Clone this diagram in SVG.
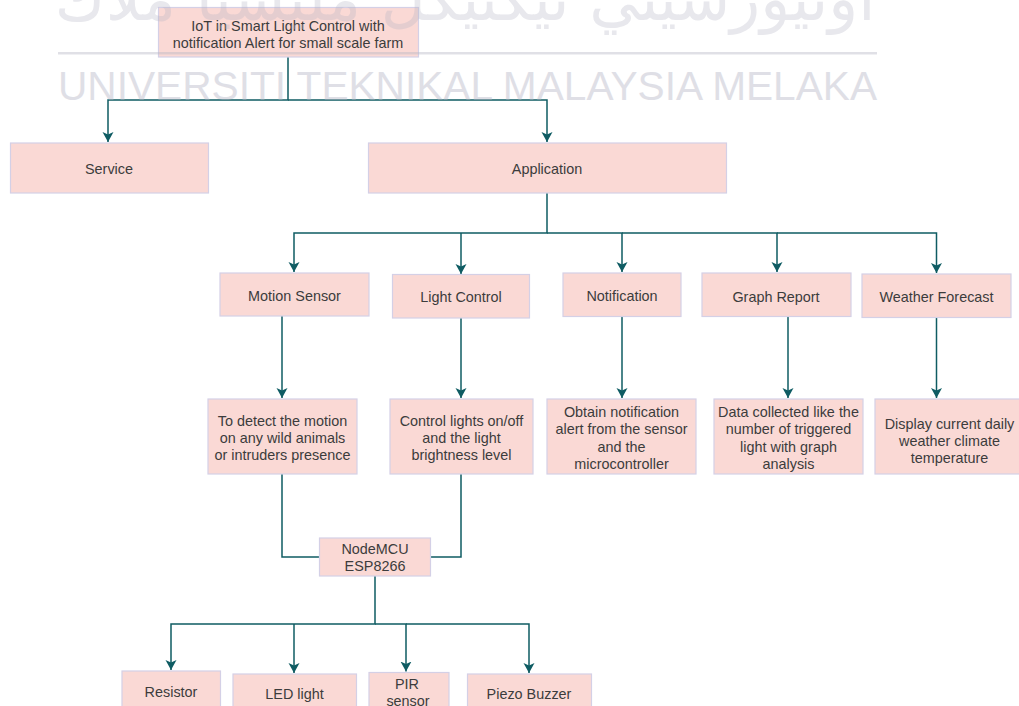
<svg xmlns="http://www.w3.org/2000/svg" width="1019" height="706" viewBox="0 0 1019 706">
  <style>
    .box { fill: #fad9d5; stroke: #d4d0e6; stroke-width: 1.2; }
    .lbl { font-family: "Liberation Sans", Arial, sans-serif; font-size: 14.4px; fill: #3c3c3c; text-anchor: middle; }
    .wire { fill: none; stroke: #0f5c63; stroke-width: 1.5; }
    .wm { font-family: "Liberation Sans", Arial, sans-serif; fill: #b4b4c4; opacity: 0.42; }
    .wmj { font-family: "DejaVu Sans", sans-serif; fill: #b4b4c4; opacity: 0.3; }
  </style>
  <defs>
    <marker id="arrow" markerUnits="userSpaceOnUse" markerWidth="12" markerHeight="12" refX="10" refY="5.5" orient="auto">
      <path d="M0,0 L10,5.5 L0,11 L2.5,5.5 z" fill="#0f5c63"/>
    </marker>
  </defs>

  <rect width="1019" height="706" fill="#ffffff"/>

  <!-- connectors -->
  <g id="connectors">
    <path class="wire" d="M288,57 V100 H108 V142" marker-end="url(#arrow)"/>
    <path class="wire" d="M288,100 H547 V142" marker-end="url(#arrow)"/>

    <path class="wire" d="M547,193 V233 H294 V272" marker-end="url(#arrow)"/>
    <path class="wire" d="M461,233 V274" marker-end="url(#arrow)"/>
    <path class="wire" d="M547,233 H622 V272" marker-end="url(#arrow)"/>
    <path class="wire" d="M622,233 H777 V272" marker-end="url(#arrow)"/>
    <path class="wire" d="M777,233 H936.5 V273" marker-end="url(#arrow)"/>

    <path class="wire" d="M282,316 V398" marker-end="url(#arrow)"/>
    <path class="wire" d="M461,318 V398" marker-end="url(#arrow)"/>
    <path class="wire" d="M622,316.5 V398" marker-end="url(#arrow)"/>
    <path class="wire" d="M788,316.5 V398" marker-end="url(#arrow)"/>
    <path class="wire" d="M936.5,317.5 V398" marker-end="url(#arrow)"/>

    <path class="wire" d="M282,474 V557 H319.5"/>
    <path class="wire" d="M461,474 V557 H430.5"/>

    <path class="wire" d="M375,576 V624 H171 V670" marker-end="url(#arrow)"/>
    <path class="wire" d="M294,624 V673" marker-end="url(#arrow)"/>
    <path class="wire" d="M375,624 H406 V671.5" marker-end="url(#arrow)"/>
    <path class="wire" d="M406,624 H529 V673" marker-end="url(#arrow)"/>
  </g>

  <!-- nodes -->
  <g id="root">
    <rect class="box" x="158.5" y="7.5" width="260" height="49.5"/>
    <text class="lbl" x="288" y="30.5">IoT in Smart Light Control with</text>
    <text class="lbl" x="288" y="47.8">notification Alert for small scale farm</text>
  </g>

  <g id="service">
    <rect class="box" x="10.5" y="143" width="198" height="50"/>
    <text class="lbl" x="109" y="173.5">Service</text>
  </g>
  <g id="application">
    <rect class="box" x="368.5" y="143" width="358" height="50"/>
    <text class="lbl" x="547" y="173.5">Application</text>
  </g>

  <g id="motion-sensor">
    <rect class="box" x="220" y="273" width="149" height="43"/>
    <text class="lbl" x="294.5" y="301">Motion Sensor</text>
  </g>
  <g id="light-control">
    <rect class="box" x="392.5" y="274.5" width="137" height="43.5"/>
    <text class="lbl" x="461" y="302">Light Control</text>
  </g>
  <g id="notification">
    <rect class="box" x="563" y="273" width="118" height="43.5"/>
    <text class="lbl" x="622" y="300.5">Notification</text>
  </g>
  <g id="graph-report">
    <rect class="box" x="702" y="273" width="149" height="43.5"/>
    <text class="lbl" x="776" y="301.5">Graph Report</text>
  </g>
  <g id="weather-forecast">
    <rect class="box" x="862" y="274" width="149" height="43.5"/>
    <text class="lbl" x="936.5" y="302">Weather Forecast</text>
  </g>

  <g id="motion-desc">
    <rect class="box" x="208" y="399" width="149" height="75"/>
    <text class="lbl" x="282.5" y="425.5">To detect the motion</text>
    <text class="lbl" x="282.5" y="443">on any wild animals</text>
    <text class="lbl" x="282.5" y="460.3">or intruders presence</text>
  </g>
  <g id="light-desc">
    <rect class="box" x="390" y="399" width="143" height="75"/>
    <text class="lbl" x="461.5" y="425.5">Control lights on/off</text>
    <text class="lbl" x="461.5" y="443">and the light</text>
    <text class="lbl" x="461.5" y="460.3">brightness level</text>
  </g>
  <g id="notification-desc">
    <rect class="box" x="547" y="399" width="149" height="75"/>
    <text class="lbl" x="621.5" y="417">Obtain notification</text>
    <text class="lbl" x="621.5" y="434.3">alert from the sensor</text>
    <text class="lbl" x="621.5" y="451.6">and the</text>
    <text class="lbl" x="621.5" y="468.9">microcontroller</text>
  </g>
  <g id="graph-desc">
    <rect class="box" x="714" y="399" width="149" height="75"/>
    <text class="lbl" x="788.5" y="417">Data collected like the</text>
    <text class="lbl" x="788.5" y="434.3">number of triggered</text>
    <text class="lbl" x="788.5" y="451.6">light with graph</text>
    <text class="lbl" x="788.5" y="468.9">analysis</text>
  </g>
  <g id="weather-desc">
    <rect class="box" x="875" y="399" width="149" height="75"/>
    <text class="lbl" x="949.5" y="428.5">Display current daily</text>
    <text class="lbl" x="949.5" y="445.8">weather climate</text>
    <text class="lbl" x="949.5" y="463.1">temperature</text>
  </g>

  <g id="nodemcu">
    <rect class="box" x="319.5" y="538" width="111" height="38"/>
    <text class="lbl" x="375" y="553.8">NodeMCU</text>
    <text class="lbl" x="375" y="571.1">ESP8266</text>
  </g>

  <g id="resistor">
    <rect class="box" x="122" y="671" width="98.5" height="49"/>
    <text class="lbl" x="171" y="697">Resistor</text>
  </g>
  <g id="led-light">
    <rect class="box" x="233" y="674" width="123.5" height="49"/>
    <text class="lbl" x="294.5" y="698.5">LED light</text>
  </g>
  <g id="pir-sensor">
    <rect class="box" x="369" y="672.5" width="80" height="49"/>
    <text class="lbl" x="407" y="688.5">PIR</text>
    <text class="lbl" x="408" y="705.8">sensor</text>
  </g>
  <g id="piezo-buzzer">
    <rect class="box" x="467.5" y="674" width="124" height="49"/>
    <text class="lbl" x="529" y="698.5">Piezo Buzzer</text>
  </g>

  <!-- faint university watermark printed over the page -->
  <g id="watermark">
    <text class="wmj" x="465" y="20" font-size="62" text-anchor="middle">اونيورسيتي تيكنيكل مليسيا ملاك</text>
    <rect x="58" y="52" width="819" height="2.5" fill="#b4b4c4" opacity="0.42"/>
    <text class="wm" x="58" y="100" font-size="41" textLength="819" lengthAdjust="spacingAndGlyphs">UNIVERSITI TEKNIKAL MALAYSIA MELAKA</text>
  </g>
</svg>
